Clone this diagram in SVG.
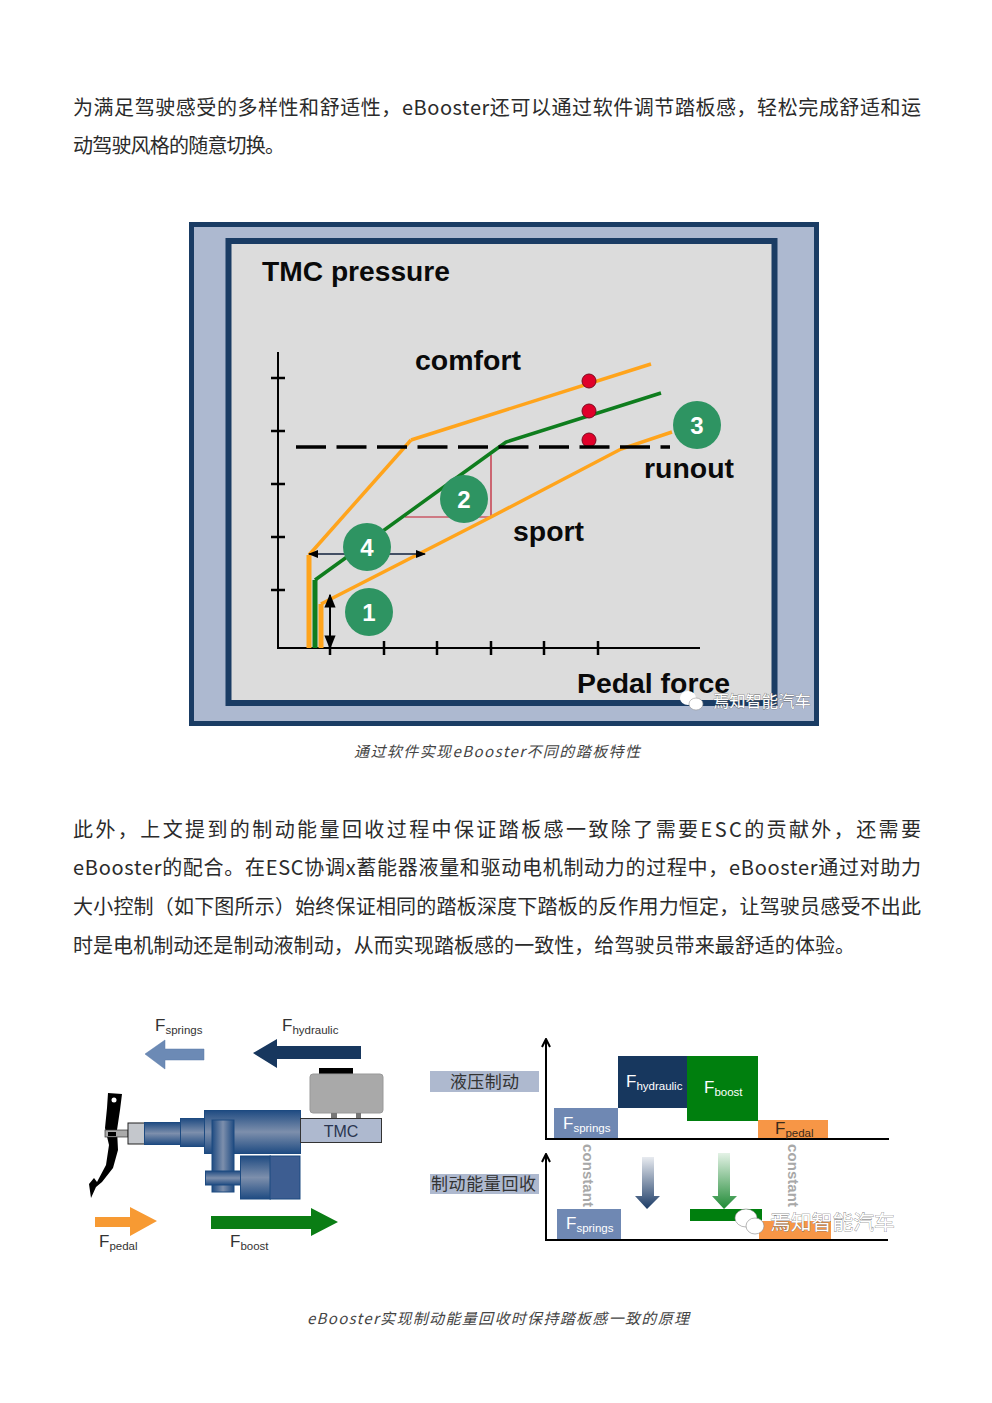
<svg xmlns="http://www.w3.org/2000/svg" width="992" height="1403" viewBox="0 0 992 1403">
<style>
.body{font-family:"Noto Sans CJK SC","Noto Sans",sans-serif;font-size:20px;fill:#2b2b2b}
.cap{font-family:"Noto Sans CJK SC","Noto Sans",sans-serif;font-size:15px;font-style:italic;fill:#444}
.lab{font-family:"Liberation Sans",Arial,sans-serif;font-weight:bold;font-size:27px;fill:#0a0a0a}
.num{font-family:"Liberation Sans",Arial,sans-serif;font-weight:bold;font-size:24px;fill:#fff;text-anchor:middle}
.badge{fill:#2e9462}
.axis{stroke:#000;stroke-width:2;fill:none}
.tick{stroke:#000;stroke-width:2.5;fill:none}
.or{stroke:#ffa41c;stroke-width:3.5;fill:none}
.gr{stroke:#0f7d1e;stroke-width:3.5;fill:none}
.dot{fill:#e0002a;stroke:#7a0a1e;stroke-width:1}
.f{font-family:"Liberation Sans",Arial,sans-serif;font-size:17px;fill:#333}
.s{font-size:11.5px}
.w{fill:#fff}
.cn{font-family:"Noto Sans CJK SC",sans-serif;font-size:17px;fill:#333}
.con{font-family:"Liberation Sans",Arial,sans-serif;font-weight:bold;font-size:15px;fill:#a8a8a8}
.wm{font-family:"Noto Sans CJK SC",sans-serif;fill:#fff;stroke:#666;stroke-width:.6;paint-order:stroke}
.blue{fill:url(#bg);stroke:#1d4a80;stroke-width:1}
</style>
<defs>
<linearGradient id="bg" x1="0" y1="0" x2="0" y2="1"><stop offset="0" stop-color="#1f4b82"/><stop offset=".5" stop-color="#7d8fac"/><stop offset="1" stop-color="#1f4b82"/></linearGradient>
<linearGradient id="bv" x1="0" y1="0" x2="1" y2="0"><stop offset="0" stop-color="#1f4b82"/><stop offset=".5" stop-color="#7d8fac"/><stop offset="1" stop-color="#1f4b82"/></linearGradient>
<linearGradient id="ga" gradientUnits="userSpaceOnUse" x1="0" y1="1157" x2="0" y2="1209"><stop offset="0" stop-color="#e8ebf0"/><stop offset="1" stop-color="#1c3b66"/></linearGradient>
<linearGradient id="gb" gradientUnits="userSpaceOnUse" x1="0" y1="1153" x2="0" y2="1209"><stop offset="0" stop-color="#e4f2e6"/><stop offset="1" stop-color="#1f8a35"/></linearGradient>
<marker id="ah" viewBox="0 0 10 10" refX="9" refY="5" markerWidth="7" markerHeight="7" orient="auto-start-reverse"><path d="M0 1L10 5L0 9z" fill="#000"/></marker>
<marker id="oa" viewBox="0 0 10 10" refX="8" refY="5" markerWidth="5" markerHeight="5" orient="auto"><path d="M1 1L9 5L1 9" fill="none" stroke="#000" stroke-width="2"/></marker>
</defs>
<rect width="992" height="1403" fill="#fff"/>

<g id="text-top">
<text class="body" x="73" y="115" textLength="848" lengthAdjust="spacing">为满足驾驶感受的多样性和舒适性，eBooster还可以通过软件调节踏板感，轻松完成舒适和运</text>
<text class="body" x="73" y="153" textLength="212" lengthAdjust="spacing">动驾驶风格的随意切换。</text>
</g>

<g id="chart-frame">
<rect x="191.500" y="224.500" width="625" height="499" fill="#adb9d0" stroke="#1a3c64" stroke-width="5"/>
<rect x="228.500" y="241" width="546" height="462" fill="#dcdcdc" stroke="#1a3c64" stroke-width="6"/>
</g>
<g id="chart-axes">
<path class="axis" d="M278 352V648H700"/>
<path class="tick" d="M271 378H285M271 431H285M271 484H285M271 537H285M271 590H285M330 641V655M384 641V655M437 641V655M491 641V655M544 641V655M598 641V655"/>
</g>
<g id="chart-curves">
<path d="M405 517H491V455" fill="none" stroke="#c0182c" stroke-width="1.200"/>
<path class="or" d="M411 440L651 364"/>
<path class="or" d="M309 555L411 440"/>
<path d="M309 648V555" fill="none" stroke="#ffa41c" stroke-width="5"/>
<path class="gr" d="M315 580L495 450L506 442L661 393"/>
<path d="M315 648V580" fill="none" stroke="#0f7d1e" stroke-width="5"/>
<path class="or" d="M321 604L491 517L621 449L672 432"/>
<path d="M321 648V604" fill="none" stroke="#ffa41c" stroke-width="5"/>
<circle class="dot" cx="589" cy="381" r="7"/>
<circle class="dot" cx="589" cy="411" r="7"/>
<circle class="dot" cx="589" cy="440" r="7"/>
<path d="M309 554H425" stroke="#10203c" stroke-width="1.500" marker-start="url(#ah)" marker-end="url(#ah)"/>
<path d="M330 595V648" stroke="#000" stroke-width="2" marker-start="url(#ah)" marker-end="url(#ah)"/>
</g>
<g id="chart-dashes"><path d="M296 447H670" stroke="#000" stroke-width="3.500" stroke-dasharray="30 10.500" fill="none"/></g>
<g id="chart-labels">
<text class="lab" x="262" y="281" textLength="188" lengthAdjust="spacingAndGlyphs">TMC pressure</text>
<text class="lab" x="415" y="370" textLength="106" lengthAdjust="spacingAndGlyphs">comfort</text>
<text class="lab" x="644" y="478" textLength="90" lengthAdjust="spacingAndGlyphs">runout</text>
<text class="lab" x="513" y="541" textLength="71" lengthAdjust="spacingAndGlyphs">sport</text>
<text class="lab" x="577" y="693" textLength="153" lengthAdjust="spacingAndGlyphs">Pedal force</text>
</g>
<g id="badge-1"><circle class="badge" cx="369" cy="612" r="24"/><text class="num" x="369" y="621">1</text></g>
<g id="badge-2"><circle class="badge" cx="464" cy="499" r="24"/><text class="num" x="464" y="508">2</text></g>
<g id="badge-3"><circle class="badge" cx="697" cy="425" r="24"/><text class="num" x="697" y="434">3</text></g>
<g id="badge-4"><circle class="badge" cx="367" cy="547" r="24"/><text class="num" x="367" y="556">4</text></g>
<g id="watermark-1">
<ellipse class="w" cx="688" cy="698" rx="8" ry="7"/><ellipse class="w" cx="696" cy="704" rx="7" ry="6" stroke="#999" stroke-width=".6"/>
<text class="wm" x="713" y="707" font-size="16.300">焉知智能汽车</text>
</g>
<text class="cap" x="354" y="757" textLength="286" lengthAdjust="spacing">通过软件实现eBooster不同的踏板特性</text>

<g id="text-mid">
<text class="body" x="73" y="837" textLength="848" lengthAdjust="spacing">此外，上文提到的制动能量回收过程中保证踏板感一致除了需要ESC的贡献外，还需要</text>
<text class="body" x="73" y="875" textLength="848" lengthAdjust="spacing">eBooster的配合。在ESC协调x蓄能器液量和驱动电机制动力的过程中，eBooster通过对助力</text>
<text class="body" x="73" y="914" textLength="848" lengthAdjust="spacing">大小控制（如下图所示）始终保证相同的踏板深度下踏板的反作用力恒定，让驾驶员感受不出此</text>
<text class="body" x="73" y="953" textLength="782" lengthAdjust="spacing">时是电机制动还是制动液制动，从而实现踏板感的一致性，给驾驶员带来最舒适的体验。</text>
</g>

<g id="force-arrows">
<path d="M145 1054L165 1040V1049H204V1060H165V1069z" fill="#6c8ab5" stroke="#5a7aa8" stroke-width=".5"/>
<path d="M253 1053L277 1039V1046H361V1059H277V1068z" fill="#17375e"/>
<path d="M95 1217H130V1207L157 1221L130 1236V1227H95z" fill="#f79a33"/>
<path d="M211 1216H311V1208L338 1222L311 1236V1229H211z" fill="#0a7d14"/>
</g>
<g id="force-labels">
<text class="f" x="155" y="1031">F<tspan class="s" dy="3">springs</tspan></text>
<text class="f" x="282" y="1031">F<tspan class="s" dy="3">hydraulic</tspan></text>
<text class="f" x="99" y="1247">F<tspan class="s" dy="3">pedal</tspan></text>
<text class="f" x="230" y="1247">F<tspan class="s" dy="3">boost</tspan></text>
</g>
<g id="pedal">
<path d="M108 1093L122 1094L120 1110L117 1130L118 1150L113 1168L102 1182L96 1187L91 1198L89 1184L94 1178L97 1182L106 1165L109 1145L105 1128L107 1108z" fill="#000"/>
<circle cx="114" cy="1100" r="2.500" fill="#fff"/>
<rect x="105" y="1130" width="23" height="7" fill="#aaa" stroke="#333" stroke-width=".7"/>
<rect x="108" y="1132" width="8" height="4" fill="#000"/>
</g>
<g id="booster">
<rect x="128" y="1123" width="17" height="21" fill="#c4c7cc" stroke="#222" stroke-width="1"/>
<rect class="blue" x="144.500" y="1122.500" width="36" height="22"/>
<rect class="blue" x="180.500" y="1118.500" width="24" height="28"/>
<rect class="blue" x="204.500" y="1110.500" width="96" height="43"/>
<rect x="212" y="1120" width="22" height="72" fill="url(#bv)" stroke="#1d4a80"/>
<rect class="blue" x="205.500" y="1171" width="35" height="14"/>
<rect class="blue" x="240.500" y="1156" width="30" height="43"/>
<rect x="270" y="1156" width="30" height="43" fill="#3d5d91" stroke="#1d4a80"/>
</g>
<g id="tmc">
<rect x="319" y="1068" width="34" height="6" fill="#000"/>
<rect x="310" y="1074" width="73" height="39" rx="3" fill="#a9a9a9" stroke="#999"/>
<rect x="331" y="1113" width="6" height="5" fill="#777"/><rect x="356" y="1113" width="5" height="5" fill="#777"/>
<rect x="300.500" y="1118.500" width="81" height="24" fill="#aeb9cf" stroke="#333"/>
<text x="341" y="1137" text-anchor="middle" font-family="Liberation Sans,Arial,sans-serif" font-size="16" fill="#2a3550">TMC</text>
</g>

<g id="hydraulic-row">
<rect x="430" y="1071" width="109" height="21" fill="#aeb9cf"/>
<text class="cn" x="450" y="1088" textLength="69" lengthAdjust="spacing">液压制动</text>
<path class="axis" d="M546 1139V1040" marker-end="url(#oa)"/>
<path class="axis" d="M545 1139H889"/>
<rect x="554" y="1108" width="64" height="30" fill="#6f88b3"/>
<rect x="618" y="1056" width="69" height="52" fill="#17375e"/>
<rect x="687" y="1056" width="71" height="65" fill="#007f0e"/>
<rect x="758" y="1120" width="70" height="18" fill="#f79646"/>
<text class="f w" x="563" y="1129">F<tspan class="s" dy="3">springs</tspan></text>
<text class="f w" x="626" y="1087">F<tspan class="s" dy="3">hydraulic</tspan></text>
<text class="f w" x="704" y="1093">F<tspan class="s" dy="3">boost</tspan></text>
<text class="f" x="775" y="1134" style="fill:#3a2a1a">F<tspan class="s" dy="3">pedal</tspan></text>
</g>
<g id="regen-row">
<rect x="430" y="1174" width="109" height="20" fill="#aeb9cf"/>
<text class="cn" x="431" y="1190" textLength="105" lengthAdjust="spacing">制动能量回收</text>
<path class="axis" d="M546 1240V1155" marker-end="url(#oa)"/>
<path class="axis" d="M545 1240H888"/>
<rect x="557" y="1209" width="64" height="30" fill="#6f88b3"/>
<rect x="690" y="1209" width="72" height="12" fill="#007f0e"/>
<rect x="759" y="1221" width="72" height="18" fill="#f79646"/>
<text class="f w" x="566" y="1229">F<tspan class="s" dy="3">springs</tspan></text>
</g>
<g id="constants">
<text class="con" transform="translate(583 1144) rotate(90)" textLength="63">constant</text>
<text class="con" transform="translate(788 1144) rotate(90)" textLength="63">constant</text>
</g>
<g id="shift-arrows">
<path d="M642 1157H654V1196H660L647 1209L635 1196H642z" fill="url(#ga)"/>
<path d="M718 1153H730V1196H737L724 1209L712 1196H718z" fill="url(#gb)"/>
</g>
<g id="watermark-2">
<ellipse class="w" cx="746" cy="1218" rx="11" ry="9" stroke="#888" stroke-width=".6"/><ellipse class="w" cx="755" cy="1226" rx="9" ry="8" stroke="#888" stroke-width=".6"/>
<text class="wm" x="770" y="1230" font-size="20.800">焉知智能汽车</text>
</g>
<text class="cap" x="307" y="1324" textLength="382" lengthAdjust="spacing">eBooster实现制动能量回收时保持踏板感一致的原理</text>
</svg>
